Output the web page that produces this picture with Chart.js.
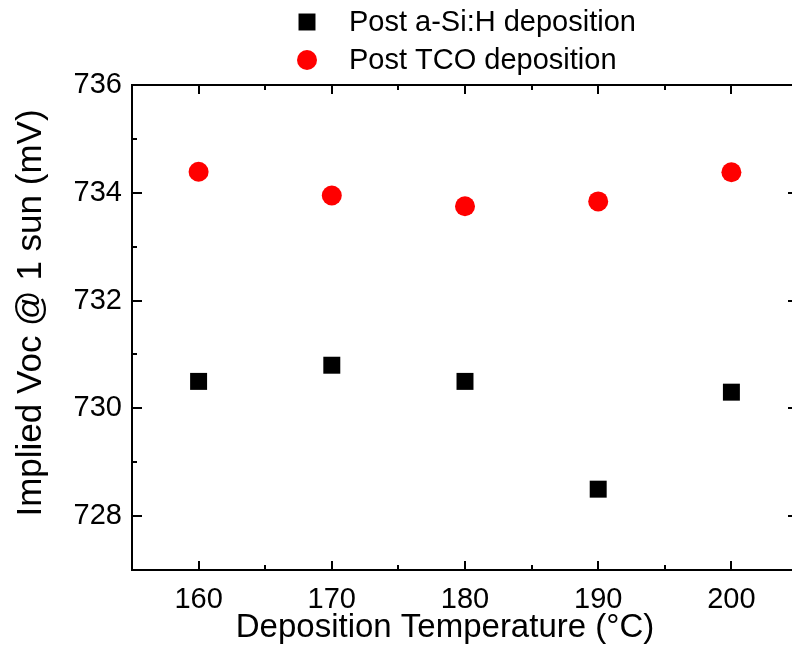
<!DOCTYPE html>
<html>
<head>
<meta charset="utf-8">
<script src="https://cdn.jsdelivr.net/npm/chart.js@4/dist/chart.umd.min.js"></script>
<style>
    html, body { margin: 0; padding: 0; background: #fff; overflow: hidden; }
    #wrap { width: 810px; height: 648px; }
</style>
</head>
<body>
<div id="wrap"><canvas id="vocChart" width="810" height="648"></canvas></div>
<script>
// deposition temperatures (°C) and implied Voc readings (mV)
const temperatures = [160, 170, 180, 190, 200];
const vocAfterASi = [730.5, 730.8, 730.5, 728.5, 730.3];
const vocAfterTCO = [734.39, 733.95, 733.75, 733.84, 734.38];
const seriesNames = ['Post a-Si:H deposition', 'Post TCO deposition'];
const xTitle = 'Deposition Temperature (°C)';
const yTitle = 'Implied Voc @ 1 sun (mV)';

const xTickValues = [160, 170, 180, 190, 200];
const xMinorValues = [165, 175, 185, 195];
const yTickValues = [728, 730, 732, 734, 736];
const yMinorValues = [729, 731, 733, 735];

const FONT = '"Liberation Sans", Arial, sans-serif';
Chart.defaults.font.family = FONT;
Chart.defaults.color = '#000';

// closed frame with inward major/minor ticks, like the origin plot
const frameTicks = {
    id: 'frameTicks',
    afterDatasetsDraw(chart) {
        const { ctx, chartArea: a, scales: { x, y } } = chart;
        ctx.save();
        ctx.strokeStyle = '#000';
        ctx.lineWidth = 2;
        ctx.beginPath();
        const xMark = (vals, len) => vals.forEach(v => {
            const px = Math.round(x.getPixelForValue(v));
            ctx.moveTo(px, a.bottom); ctx.lineTo(px, a.bottom - len);
            ctx.moveTo(px, a.top); ctx.lineTo(px, a.top + len);
        });
        const yMark = (vals, len) => vals.forEach(v => {
            const py = Math.round(y.getPixelForValue(v));
            ctx.moveTo(a.left, py); ctx.lineTo(a.left + len, py);
            ctx.moveTo(a.right, py); ctx.lineTo(a.right - len, py);
        });
        xMark(xTickValues, 9);
        xMark(xMinorValues, 5);
        yMark(yTickValues, 10);
        yMark(yMinorValues, 5);
        ctx.stroke();
        ctx.strokeRect(a.left, a.top, a.right - a.left, a.bottom - a.top);
        ctx.restore();
    }
};

// axis titles; the image is cropped on the right so the x title sits left of the axis centre
const axisTitles = {
    id: 'axisTitles',
    afterDraw(chart) {
        const ctx = chart.ctx;
        ctx.save();
        ctx.fillStyle = '#000';
        ctx.textAlign = 'center';
        ctx.textBaseline = 'middle';
        ctx.font = `33px ${FONT}`;
        ctx.fillText(xTitle, 445, 628);
        ctx.translate(31, 313);
        ctx.rotate(-Math.PI / 2);
        ctx.font = `35px ${FONT}`;
        ctx.fillText(yTitle, 0, 0);
        ctx.restore();
    }
};

// two-row legend above the plot, markers taken from the datasets
const stackedLegend = {
    id: 'stackedLegend',
    afterDraw(chart) {
        const ctx = chart.ctx;
        ctx.save();
        ctx.font = `29px ${FONT}`;
        ctx.textBaseline = 'middle';
        ctx.textAlign = 'left';
        chart.data.datasets.forEach((ds, i) => {
            const cy = 22 + i * 38;
            ctx.fillStyle = ds.backgroundColor;
            Chart.helpers.drawPoint(ctx, {
                pointStyle: ds.pointStyle,
                radius: ds.pointRadius,
                borderWidth: 0,
                rotation: 0
            }, 307, cy);
            ctx.fillStyle = '#000';
            ctx.fillText(ds.label, 349, cy + 1);
        });
        ctx.restore();
    }
};

const ctx = document.getElementById('vocChart').getContext('2d');

new Chart(ctx, {
    type: 'scatter',
    data: {
        datasets: [
            {
                label: seriesNames[0],
                data: temperatures.map((t, i) => ({ x: t, y: vocAfterASi[i] })),
                pointStyle: 'rect',
                pointRadius: 12,
                backgroundColor: '#000',
                borderWidth: 0
            },
            {
                label: seriesNames[1],
                data: temperatures.map((t, i) => ({ x: t, y: vocAfterTCO[i] })),
                pointStyle: 'circle',
                pointRadius: 10,
                backgroundColor: '#ff0000',
                borderWidth: 0
            }
        ]
    },
    options: {
        responsive: false,
        animation: false,
        devicePixelRatio: 1,
        layout: { padding: { top: 85, right: 11, left: 0, bottom: 0 } },
        plugins: {
            legend: { display: false },
            tooltip: { enabled: false }
        },
        scales: {
            x: {
                type: 'linear',
                min: 155,
                max: 205,
                grid: { display: false, drawTicks: false },
                border: { display: false },
                afterBuildTicks: s => { s.ticks = xTickValues.map(v => ({ value: v })); },
                afterFit: s => { s.height = 78; },
                ticks: { font: { size: 29 }, padding: 13, maxRotation: 0 }
            },
            y: {
                type: 'linear',
                min: 727,
                max: 736,
                grid: { display: false, drawTicks: false },
                border: { display: false },
                afterBuildTicks: s => { s.ticks = yTickValues.map(v => ({ value: v })); },
                afterFit: s => { s.width = 132; },
                ticks: { font: { size: 29 }, padding: 10 }
            }
        }
    },
    plugins: [frameTicks, axisTitles, stackedLegend]
});
</script>
</body>
</html>
